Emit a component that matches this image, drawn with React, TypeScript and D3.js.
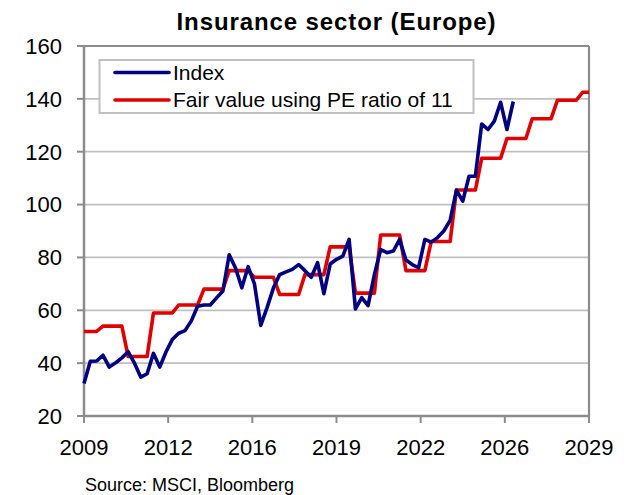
import React from "react";
import * as d3 from "d3";

// Quarterly observations starting 2009 Q1
const startYear = 2009;
const endYear = 2029;
const indexValues = [
  32.3, 40.7, 40.8, 43, 38.5, 40.1, 42, 44.3, 40, 34.7, 36, 43.7, 38.5, 44.3, 49,
  51.3, 52.3, 56, 61.5, 62, 62, 64.7, 67.3, 81, 76, 68.5, 76.5, 70, 54.3, 61, 68.4,
  73.5, 74.5, 75.5, 77.3, 75, 72.5, 78, 66.3, 77.5, 79.3, 80.5, 86.8, 60.5, 64.8,
  61.8, 73.5, 83, 81.8, 82.4, 86.8, 79, 77.3, 76.1, 86.8, 85.8, 87.5, 90, 94, 105.5,
  101.3, 110.7, 110.7, 130.5, 128.4, 131.6, 138.7, 128.4, 139,
];
const fairValues = [
  52, 52, 52,
  54, 54, 54, 54,
  42.5, 42.5, 42.5, 42.5,
  59, 59, 59, 59,
  62, 62, 62, 62,
  68, 68, 68, 68,
  75, 75, 75, 75,
  72.5, 72.5, 72.5, 72.5,
  66, 66, 66, 66,
  73.5, 73.5, 73.5, 73.5,
  84, 84, 84, 84,
  66.5, 66.5, 66.5, 66.5,
  88.5, 88.5, 88.5, 88.5,
  75, 75, 75, 75,
  86, 86, 86, 86,
  105.5, 105.5, 105.5, 105.5,
  117.5, 117.5, 117.5, 117.5,
  125, 125, 125, 125,
  132.5, 132.5, 132.5, 132.5,
  139.5, 139.5, 139.5, 139.5,
  142.5, 142.5,
];
const xTickLabels = ["2009", "2012", "2016", "2019", "2022", "2026", "2029"];
const yTicks = [20, 40, 60, 80, 100, 120, 140, 160];
const seriesNames = ["Index", "Fair value using PE ratio of 11"];
const seriesColors = ["#000080", "#e00000"];
const title = "Insurance sector (Europe)";
const source = "Source: MSCI, Bloomberg";

const W = 633;
const H = 495;
const M = { left: 84, right: 589, top: 46, bottom: 416 };
const FONT = "'Liberation Sans', Arial, sans-serif";

export default function App() {
  const x = d3.scaleLinear().domain([startYear, endYear]).range([M.left, M.right]);
  const y = d3.scaleLinear().domain([20, 160]).range([M.bottom, M.top]);
  const toYear = (i: number) => startYear + i / 4;
  const line = d3
    .line<number>()
    .x((_, i) => x(toYear(i)))
    .y((d) => y(d));
  const xTicks = xTickLabels.map((lab, i) => ({
    lab,
    v: startYear + ((endYear - startYear) * i) / (xTickLabels.length - 1),
  }));

  const legendX = 99.5;
  const legendY = 60;
  return (
    <svg
      width={W}
      height={H}
      style={{ position: "absolute", left: 0, top: 0, background: "#fff" }}
      fontFamily={FONT}
    >
      <rect x={0} y={0} width={W} height={H} fill="#fff" />
      <text
        x={(M.left + M.right) / 2}
        y={30}
        textAnchor="middle"
        fontSize={24}
        fontWeight="bold"
        letterSpacing={0.9}
        fill="#000"
      >
        {title}
      </text>
      {/* gridlines */}
      {yTicks.map((t) => (
        <line
          key={"g" + t}
          x1={M.left}
          x2={M.right}
          y1={y(t)}
          y2={y(t)}
          stroke="#c0c0c0"
          strokeWidth={1.8}
        />
      ))}
      {/* plot border */}
      <line x1={M.left} x2={M.right} y1={M.top} y2={M.top} stroke="#8c8c8c" strokeWidth={2} />
      <line x1={M.right} x2={M.right} y1={M.top} y2={M.bottom} stroke="#8c8c8c" strokeWidth={2.2} />
      {/* y axis */}
      <line x1={M.left} x2={M.left} y1={M.top} y2={M.bottom} stroke="#8c8c8c" strokeWidth={2.5} />
      {yTicks.map((t) => (
        <g key={"y" + t}>
          <line x1={M.left - 7} x2={M.left} y1={y(t)} y2={y(t)} stroke="#8c8c8c" strokeWidth={2} />
          <text x={62} y={y(t)} dy="0.36em" textAnchor="end" fontSize={22} fill="#000">
            {t}
          </text>
        </g>
      ))}
      {/* x axis */}
      <line x1={M.left} x2={M.right} y1={M.bottom} y2={M.bottom} stroke="#8c8c8c" strokeWidth={2.5} />
      {xTicks.map((t) => (
        <g key={"x" + t.lab}>
          <line x1={x(t.v)} x2={x(t.v)} y1={M.bottom} y2={M.bottom + 7} stroke="#8c8c8c" strokeWidth={2} />
          <text x={x(t.v)} y={455} textAnchor="middle" fontSize={22} fill="#000">
            {t.lab}
          </text>
        </g>
      ))}
      {/* series */}
      <path
        d={line(fairValues) || ""}
        fill="none"
        stroke={seriesColors[1]}
        strokeWidth={3.6}
        strokeLinejoin="round"
      />
      <path
        d={line(indexValues) || ""}
        fill="none"
        stroke={seriesColors[0]}
        strokeWidth={3.6}
        strokeLinejoin="round"
      />
      {/* legend */}
      <rect
        x={legendX}
        y={legendY}
        width={374}
        height={53}
        fill="#fff"
        stroke="#c0c0c0"
        strokeWidth={2}
      />
      {seriesNames.map((n, i) => (
        <g key={n}>
          <line
            x1={115}
            x2={169}
            y1={72.5 + i * 27.5}
            y2={72.5 + i * 27.5}
            stroke={seriesColors[i]}
            strokeWidth={3.6}
            strokeLinecap="round"
          />
          <text x={173} y={80 + i * 26.8} fontSize={21} fill="#000">
            {n}
          </text>
        </g>
      ))}
      <text x={85} y={491} fontSize={18} fill="#000">
        {source}
      </text>
    </svg>
  );
}
